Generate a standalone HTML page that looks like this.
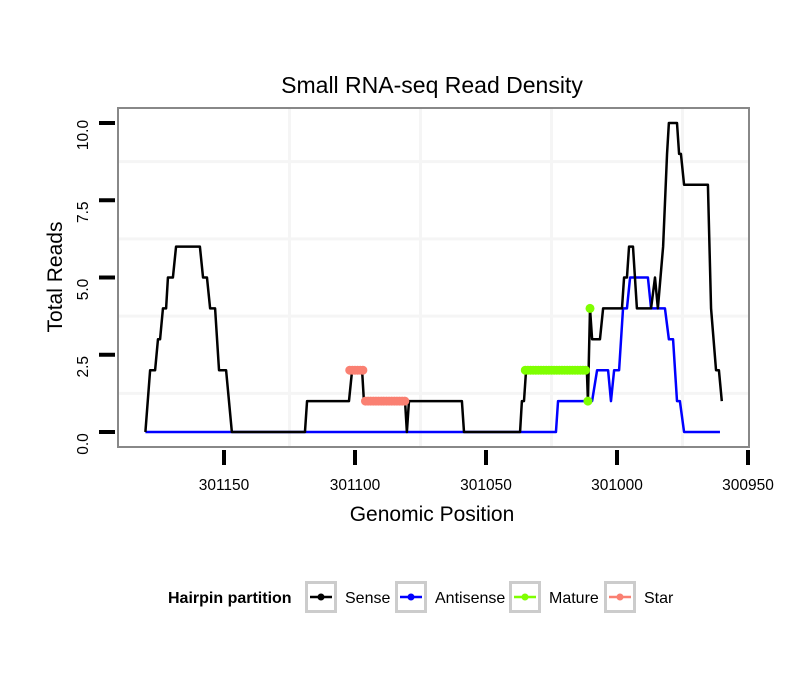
<!DOCTYPE html>
<html><head><meta charset="utf-8"><style>
body{margin:0;background:#fff;}
svg{display:block;font-family:"Liberation Sans",sans-serif;}
</style></head><body>
<svg id="chart" width="810" height="690">
<text x="432" y="93" text-anchor="middle" font-size="23">Small RNA-seq Read Density</text>
<g id="grid"></g>
<g id="series"></g>
<rect x="118" y="108" width="631" height="339" fill="none" stroke="#888" stroke-width="2"/>
<g id="axes"></g>
<text x="432" y="521" text-anchor="middle" font-size="21">Genomic Position</text>
<text transform="translate(62,277) rotate(-90)" text-anchor="middle" font-size="21">Total Reads</text>
<g>
<text x="168" y="603" font-size="16" font-weight="bold">Hairpin partition</text>
<g id="legend"></g>
</g>
</svg>
<script>
const xTicks=[301150,301100,301050,301000,300950];
const xMinor=[301125,301075,301025,300975];
const yTicks=[0,2.5,5,7.5,10];
const yTickLabels=["0.0","2.5","5.0","7.5","10.0"];
const yMinor=[1.25,3.75,6.25,8.75];
const sensePos=[301180,301178.2,301176.3,301175.2,301174.4,301173.3,301172.1,301171.4,301169.5,301168.3,301159.2,301158,301156.5,301155.3,301153.4,301151.9,301149.2,301147,301119.1,301118.3,301102.3,301101.1,301097.3,301096.6,301080.9,301080.2,301079.4,301059.2,301058.4,301037,301036.3,301035.5,301034.7,301011.5,301011.1,301010.3,301009.5,301006.5,301005.3,300998.1,300997.3,300996.2,300995.4,300993.9,300992.4,300987,300985.5,300984.4,300982.4,300980.9,300980.2,300977.1,300976.3,300975.6,300974.4,300965.3,300964.1,300962.2,300961.1,300960];
const senseVal=[0,2,2,3,3,4,4,5,5,6,6,5,5,4,4,2,2,0,0,1,1,2,2,1,1,0,1,1,0,0,1,1,2,2,1,4,3,3,4,4,5,5,6,6,4,4,5,4,6,9,10,10,9,9,8,8,4,2,2,1];
const antiPos=[301180,301023.3,301022.5,301009.5,301007.6,301003.4,301002.3,301001.1,300999.2,300997.7,300996.2,300995,300988.2,300987,300981.7,300980.2,300978.6,300977.1,300976,300974.4,300960.7];
const antiVal=[0,0,1,1,2,2,1,2,2,4,4,5,5,4,4,3,3,1,1,0,0];
const maturePos=[301035,301034,301033,301032,301031,301030,301029,301028,301027,301026,301025,301024,301023,301022,301021,301020,301019,301018,301017,301016,301015,301014,301013,301012,301011.1,301010.3];
const matureVal=[2,2,2,2,2,2,2,2,2,2,2,2,2,2,2,2,2,2,2,2,2,2,2,2,1,4];
const starPos=[301102,301101,301100,301099,301098,301097,301096,301095,301094,301093,301092,301091,301090,301089,301088,301087,301086,301085,301084,301083,301082,301081];
const starVal=[2,2,2,2,2,2,1,1,1,1,1,1,1,1,1,1,1,1,1,1,1,1];
const legendLabels=["Sense","Antisense","Mature","Star"];
const legendColors=["#000","#0000ff","#7fff00","#fa8072"];

const NS="http://www.w3.org/2000/svg";
function X(p){return 224+(301150-p)*2.62;}
function Y(v){return 432-v*30.9;}
function mk(tag,attrs,parent){const e=document.createElementNS(NS,tag);for(const k in attrs)e.setAttribute(k,attrs[k]);parent.appendChild(e);return e;}
const grid=document.getElementById('grid'),axes=document.getElementById('axes'),series=document.getElementById('series'),legend=document.getElementById('legend');
xMinor.forEach(p=>{const l=mk('line',{x1:X(p),x2:X(p),y1:108,y2:447,stroke:'#f5f5f5','stroke-width':3},grid);

});
yMinor.forEach(v=>{const l=mk('line',{x1:118,x2:749,y1:Y(v),y2:Y(v),stroke:'#f5f5f5','stroke-width':3},grid);

});
xTicks.forEach(p=>{const t=mk('line',{x1:X(p),x2:X(p),y1:450,y2:465,stroke:'#000','stroke-width':4},axes);


const tx=mk('text',{x:X(p),y:490,'text-anchor':'middle','font-size':15.5},axes);tx.textContent=p;

});
yTicks.forEach((v,i)=>{const t=mk('line',{x1:99,x2:115,y1:Y(v),y2:Y(v),stroke:'#000','stroke-width':4},axes);


const tx=mk('text',{transform:`translate(88,${Y(v)+12}) rotate(-90)`,'text-anchor':'middle','font-size':15.5},axes);tx.textContent=yTickLabels[i];

});
function line(pos,val,color){return mk('polyline',{points:pos.map((p,i)=>X(p)+','+Y(val[i])).join(' '),fill:'none',stroke:color,'stroke-width':2.5,'stroke-linejoin':'round'},series);}
const la=line(antiPos,antiVal,'#0000ff');


const ls=line(sensePos,senseVal,'#000');


maturePos.forEach((p,i)=>{const c=mk('circle',{cx:X(p),cy:Y(matureVal[i]),r:4.5,fill:'#7fff00'},series);

});
starPos.forEach((p,i)=>{const c=mk('circle',{cx:X(p),cy:Y(starVal[i]),r:4.5,fill:'#fa8072'},series);

});
const lx=[305,395,509,604];
legendLabels.forEach((lab,i)=>{
const b=mk('rect',{x:lx[i]+1.5,y:582.5,width:29,height:29,fill:'#fff',stroke:'#ccc','stroke-width':3},legend);


mk('line',{x1:lx[i]+5,x2:lx[i]+27,y1:597,y2:597,stroke:legendColors[i],'stroke-width':2.5},legend);
mk('circle',{cx:lx[i]+16,cy:597,r:3.5,fill:legendColors[i]},legend);
const t=mk('text',{x:lx[i]+40,y:603,'font-size':16},legend);t.textContent=lab;

});
</script>
</body></html>
